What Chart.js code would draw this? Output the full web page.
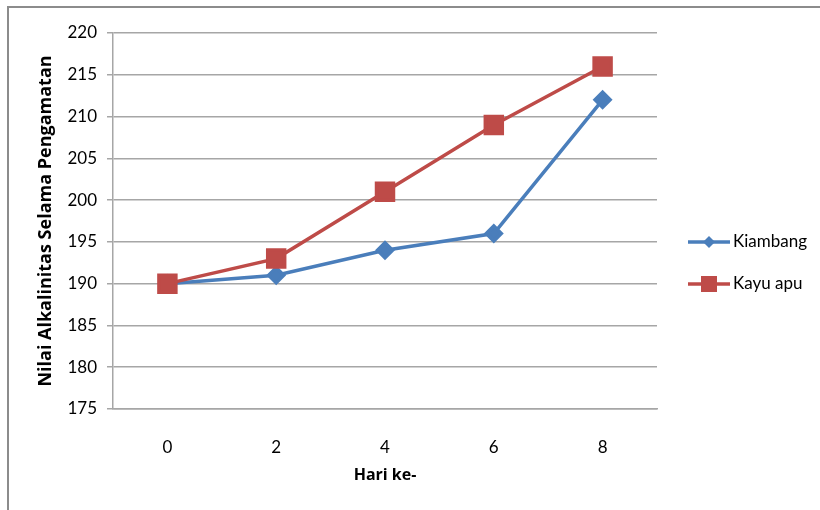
<!DOCTYPE html>
<html>
<head>
<meta charset="utf-8">
<script src="https://cdn.jsdelivr.net/npm/chart.js@4"></script>
<style>
  html, body { margin: 0; padding: 0; background: #fff; }
  #wrap { width: 820px; height: 510px; position: relative; }
</style>
</head>
<body>
<div id="wrap"><canvas id="chart" width="820" height="510"></canvas></div>
<script>
const days = ["0", "2", "4", "6", "8"];
const kiambang = [190, 191, 194, 196, 212];
const kayuApu = [190, 193, 201, 209, 216];
const yMin = 175;
const yMax = 220;
const yStep = 5;

const blue = "#4A7EBB";
const red = "#BE4B48";
const font = "Lato, 'Open Sans', sans-serif";
const titleFont = "'Open Sans', Lato, sans-serif";

// frame around the chart (left and top edges are visible)
const framePlugin = {
    id: "frame",
    beforeDraw(chart) {
        const ctx = chart.ctx;
        ctx.save();
        ctx.strokeStyle = "#8c8c8c";
        ctx.lineWidth = 2;
        ctx.beginPath();
        ctx.moveTo(8, 510);
        ctx.lineTo(8, 7);
        ctx.lineTo(820, 7);
        ctx.stroke();
        ctx.restore();
    }
};

// legend drawn as line + marker, like the original
const legendPlugin = {
    id: "sideLegend",
    afterDraw(chart) {
        const ctx = chart.ctx;
        const rows = [242, 284];
        chart.data.datasets.forEach((ds, i) => {
            const y = rows[i];
            ctx.save();
            ctx.strokeStyle = ds.borderColor;
            ctx.lineWidth = 3.5;
            ctx.beginPath();
            ctx.moveTo(688, y);
            ctx.lineTo(730, y);
            ctx.stroke();
            ctx.fillStyle = ds.borderColor;
            ctx.beginPath();
            if (ds.pointStyle === "rect") {
                ctx.rect(709 - 8, y - 8, 16, 16);
            } else {
                ctx.moveTo(709 - 6, y);
                ctx.lineTo(709, y - 6);
                ctx.lineTo(709 + 6, y);
                ctx.lineTo(709, y + 6);
                ctx.closePath();
            }
            ctx.fill();
            ctx.fillStyle = "#000";
            ctx.font = "17px " + font;
            ctx.textBaseline = "middle";
            ctx.fillText(ds.label, 733, y);
            ctx.restore();
        });
    }
};

new Chart(document.getElementById("chart").getContext("2d"), {
    type: "line",
    data: {
        labels: days,
        datasets: [{
            label: "Kiambang",
            data: kiambang,
            borderColor: blue,
            backgroundColor: blue,
            borderWidth: 3.5,
            pointStyle: "rectRot",
            pointRadius: 7.5,
            pointHoverRadius: 7.5,
            tension: 0,
            order: 1
        }, {
            label: "Kayu apu",
            data: kayuApu,
            borderColor: red,
            backgroundColor: red,
            borderWidth: 3.5,
            pointStyle: "rect",
            pointRadius: 12,
            pointHoverRadius: 12,
            tension: 0,
            order: 0
        }]
    },
    options: {
        responsive: false,
        animation: false,
        layout: { padding: { left: 0, right: 163, top: 33, bottom: 0 } },
        plugins: {
            legend: { display: false },
            tooltip: { enabled: false }
        },
        scales: {
            x: {
                offset: true,
                grid: { display: false },
                border: { display: true, color: "#a6a6a6", width: 1.5 },
                ticks: { color: "#000", font: { family: font, size: 17 }, padding: 20 },
                title: {
                    display: true,
                    text: "Hari ke-",
                    color: "#000",
                    font: { family: titleFont, size: 16, weight: "bold" },
                    padding: { top: 25, bottom: 25 }
                },
                afterFit(scale) { scale.height = 101; }
            },
            y: {
                min: yMin,
                max: yMax,
                ticks: {
                    stepSize: yStep,
                    color: "#000",
                    font: { family: font, size: 17 },
                    padding: 10
                },
                grid: { color: "#a6a6a6", lineWidth: 1.5, tickLength: 6 },
                border: { display: true, color: "#a6a6a6", width: 1.5 },
                title: {
                    display: true,
                    text: "Nilai Alkalinitas Selama Pengamatan",
                    color: "#000",
                    font: { family: titleFont, size: 18, weight: "bold" },
                    padding: { top: 35, bottom: 35 }
                },
                afterFit(scale) { scale.width = 113; }
            }
        }
    },
    plugins: [framePlugin, legendPlugin]
});
</script>
</body>
</html>
